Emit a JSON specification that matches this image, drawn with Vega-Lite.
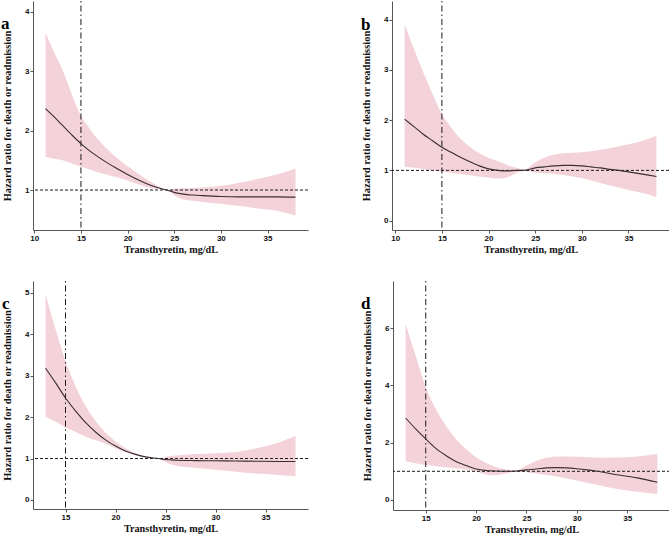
{
  "$schema": "https://vega.github.io/schema/vega-lite/v6.json",
  "padding": {"left": 1, "top": 0, "right": 0, "bottom": 0},
  "background": "white",
  "config": {
    "view": {"stroke": null},
    "axis": {
      "grid": false,
      "domainColor": "#555555",
      "domainWidth": 1,
      "tickColor": "#555555",
      "tickSize": 3,
      "labelFont": "Liberation Sans",
      "labelFontWeight": "bold",
      "labelFontSize": 8,
      "labelColor": "#111111",
      "labelPadding": 1,
      "format": ".0f",
      "titleFont": "Liberation Serif",
      "titleFontWeight": "bold",
      "titleFontSize": 10.5,
      "titleColor": "#111111"
    },
    "axisX": {"titlePadding": 2, "titleFontSize": 10.2},
    "axisY": {"titlePadding": 12},
    "title": {"font": "Liberation Serif", "fontSize": 17, "fontWeight": "bold", "anchor": "start", "orient": "none", "baseline": "alphabetic", "color": "#000000"}
  },
  "datasets": {
    "a": [
      {"x": 11.2, "est": 2.37, "lo": 1.56, "hi": 3.65},
      {"x": 12, "est": 2.25, "lo": 1.53, "hi": 3.36},
      {"x": 13, "est": 2.09, "lo": 1.5, "hi": 3.03},
      {"x": 14, "est": 1.93, "lo": 1.45, "hi": 2.62},
      {"x": 15, "est": 1.78, "lo": 1.39, "hi": 2.25},
      {"x": 16, "est": 1.65, "lo": 1.34, "hi": 2.02},
      {"x": 17, "est": 1.54, "lo": 1.29, "hi": 1.82},
      {"x": 18, "est": 1.44, "lo": 1.25, "hi": 1.66},
      {"x": 19, "est": 1.35, "lo": 1.21, "hi": 1.52},
      {"x": 20, "est": 1.26, "lo": 1.16, "hi": 1.4},
      {"x": 21, "est": 1.18, "lo": 1.1, "hi": 1.29},
      {"x": 22, "est": 1.11, "lo": 1.05, "hi": 1.18},
      {"x": 23, "est": 1.05, "lo": 1.02, "hi": 1.09},
      {"x": 24.2, "est": 1.0, "lo": 1.0, "hi": 1.0},
      {"x": 25, "est": 0.96, "lo": 0.91, "hi": 1.02},
      {"x": 26, "est": 0.93, "lo": 0.84, "hi": 1.03},
      {"x": 27, "est": 0.915, "lo": 0.82, "hi": 1.035},
      {"x": 28, "est": 0.905, "lo": 0.8, "hi": 1.04},
      {"x": 30, "est": 0.89, "lo": 0.77, "hi": 1.07},
      {"x": 32, "est": 0.885, "lo": 0.73, "hi": 1.12},
      {"x": 34, "est": 0.885, "lo": 0.69, "hi": 1.19},
      {"x": 36, "est": 0.885, "lo": 0.65, "hi": 1.26},
      {"x": 38, "est": 0.88, "lo": 0.57, "hi": 1.36}
    ],
    "b": [
      {"x": 11, "est": 2.02, "lo": 1.07, "hi": 3.9},
      {"x": 12, "est": 1.87, "lo": 1.05, "hi": 3.42},
      {"x": 13, "est": 1.72, "lo": 1.03, "hi": 2.95},
      {"x": 14, "est": 1.59, "lo": 1.0, "hi": 2.52},
      {"x": 15, "est": 1.46, "lo": 0.98, "hi": 2.12},
      {"x": 16, "est": 1.36, "lo": 0.955, "hi": 1.85},
      {"x": 17, "est": 1.26, "lo": 0.93, "hi": 1.63},
      {"x": 18, "est": 1.17, "lo": 0.905, "hi": 1.47},
      {"x": 19, "est": 1.09, "lo": 0.88, "hi": 1.34},
      {"x": 20, "est": 1.03, "lo": 0.86, "hi": 1.25},
      {"x": 21, "est": 1.0, "lo": 0.84, "hi": 1.18},
      {"x": 22, "est": 0.99, "lo": 0.86, "hi": 1.11},
      {"x": 23, "est": 1.0, "lo": 0.95, "hi": 1.05},
      {"x": 23.8, "est": 1.0, "lo": 0.99, "hi": 1.01},
      {"x": 25, "est": 1.05, "lo": 0.96, "hi": 1.16},
      {"x": 26, "est": 1.07, "lo": 0.945, "hi": 1.25},
      {"x": 27, "est": 1.09, "lo": 0.93, "hi": 1.31},
      {"x": 28, "est": 1.1, "lo": 0.91, "hi": 1.34},
      {"x": 29, "est": 1.1, "lo": 0.88, "hi": 1.35},
      {"x": 30, "est": 1.09, "lo": 0.85, "hi": 1.36},
      {"x": 31, "est": 1.07, "lo": 0.8, "hi": 1.38},
      {"x": 32, "est": 1.05, "lo": 0.75, "hi": 1.41},
      {"x": 33, "est": 1.02, "lo": 0.7, "hi": 1.44},
      {"x": 34, "est": 1.0, "lo": 0.66, "hi": 1.48},
      {"x": 35, "est": 0.97, "lo": 0.61, "hi": 1.52},
      {"x": 36, "est": 0.94, "lo": 0.57, "hi": 1.56},
      {"x": 37, "est": 0.91, "lo": 0.53, "hi": 1.62},
      {"x": 38, "est": 0.88, "lo": 0.46, "hi": 1.69}
    ],
    "c": [
      {"x": 13, "est": 3.18, "lo": 2.01, "hi": 4.96},
      {"x": 14, "est": 2.83, "lo": 1.89, "hi": 4.12},
      {"x": 15, "est": 2.46, "lo": 1.75, "hi": 3.35},
      {"x": 16, "est": 2.15, "lo": 1.64, "hi": 2.75},
      {"x": 17, "est": 1.87, "lo": 1.53, "hi": 2.27},
      {"x": 18, "est": 1.64, "lo": 1.44, "hi": 1.91},
      {"x": 19, "est": 1.45, "lo": 1.36, "hi": 1.63},
      {"x": 20, "est": 1.3, "lo": 1.25, "hi": 1.41},
      {"x": 21, "est": 1.18, "lo": 1.15, "hi": 1.25},
      {"x": 22, "est": 1.1, "lo": 1.08, "hi": 1.13},
      {"x": 23, "est": 1.04, "lo": 1.03, "hi": 1.05},
      {"x": 24.3, "est": 1.0, "lo": 1.0, "hi": 1.0},
      {"x": 25, "est": 0.975, "lo": 0.91, "hi": 1.04},
      {"x": 26, "est": 0.96, "lo": 0.83, "hi": 1.07},
      {"x": 28, "est": 0.95, "lo": 0.77, "hi": 1.11},
      {"x": 30, "est": 0.945, "lo": 0.73, "hi": 1.13},
      {"x": 32, "est": 0.94, "lo": 0.68, "hi": 1.16},
      {"x": 34, "est": 0.935, "lo": 0.64, "hi": 1.24},
      {"x": 36, "est": 0.93, "lo": 0.61, "hi": 1.36},
      {"x": 38, "est": 0.93, "lo": 0.57, "hi": 1.55}
    ],
    "d": [
      {"x": 13, "est": 2.86, "lo": 1.34, "hi": 6.14},
      {"x": 14, "est": 2.48, "lo": 1.28, "hi": 5.03},
      {"x": 15, "est": 2.13, "lo": 1.22, "hi": 3.93},
      {"x": 16, "est": 1.8, "lo": 1.18, "hi": 3.17},
      {"x": 17, "est": 1.55, "lo": 1.14, "hi": 2.59},
      {"x": 18, "est": 1.34, "lo": 1.1, "hi": 2.13},
      {"x": 19, "est": 1.2, "lo": 1.06, "hi": 1.78},
      {"x": 20, "est": 1.08, "lo": 0.99, "hi": 1.49},
      {"x": 21, "est": 1.03, "lo": 0.89, "hi": 1.29},
      {"x": 22, "est": 1.01, "lo": 0.86, "hi": 1.14},
      {"x": 23, "est": 1.0, "lo": 0.92, "hi": 1.06},
      {"x": 24, "est": 1.01, "lo": 0.99, "hi": 1.03},
      {"x": 25, "est": 1.05, "lo": 0.97, "hi": 1.2},
      {"x": 26, "est": 1.08, "lo": 0.92, "hi": 1.37},
      {"x": 27, "est": 1.12, "lo": 0.87, "hi": 1.47},
      {"x": 28, "est": 1.13, "lo": 0.82, "hi": 1.52},
      {"x": 29, "est": 1.12, "lo": 0.75, "hi": 1.52},
      {"x": 30, "est": 1.09, "lo": 0.68, "hi": 1.51},
      {"x": 31, "est": 1.05, "lo": 0.6, "hi": 1.49},
      {"x": 32, "est": 1.0, "lo": 0.53, "hi": 1.47},
      {"x": 34, "est": 0.88, "lo": 0.38, "hi": 1.48},
      {"x": 36, "est": 0.77, "lo": 0.29, "hi": 1.52},
      {"x": 38, "est": 0.62, "lo": 0.21, "hi": 1.6}
    ]
  },
  "spacing": 25,
  "vconcat": [
    {
      "spacing": 52,
      "hconcat": [
        {
          "width": 275, "height": 229,
          "title": {"text": "a", "dx": -32, "dy": 15},
          "layer": [
            {
              "data": {"name": "a"},
              "mark": {"type": "area", "color": "#f3d3d9", "opacity": 1, "interpolate": "monotone"},
              "encoding": {
                "x": {"field": "x", "type": "quantitative", "scale": {"domain": [9.86, 39.34], "nice": false, "zero": false}, "axis": {"values": [10, 15, 20, 25, 30, 35], "title": "Transthyretin, mg/dL"}},
                "y": {"field": "lo", "type": "quantitative", "scale": {"domain": [0.327, 4.18], "nice": false, "zero": false}, "axis": {"values": [1, 2, 3, 4], "title": "Hazard ratio for death or readmission"}},
                "y2": {"field": "hi"}
              }
            },
            {
              "data": {"values": [{}]},
              "mark": {"type": "rule", "color": "#1a1a1a", "strokeWidth": 1, "strokeDash": [3, 2]},
              "encoding": {"y": {"datum": 1}}
            },
            {
              "data": {"values": [{}]},
              "mark": {"type": "rule", "color": "#1a1a1a", "strokeWidth": 1, "strokeDash": [1.5, 3, 6, 3]},
              "encoding": {"x": {"datum": 15}}
            },
            {
              "data": {"name": "a"},
              "mark": {"type": "line", "color": "#3a2e30", "strokeWidth": 1.1, "interpolate": "monotone"},
              "encoding": {"x": {"field": "x", "type": "quantitative"}, "y": {"field": "est", "type": "quantitative"}}
            }
          ]
        },
        {
          "width": 277, "height": 229,
          "title": {"text": "b", "dx": -31, "dy": 16},
          "layer": [
            {
              "data": {"name": "b"},
              "mark": {"type": "area", "color": "#f3d3d9", "opacity": 1, "interpolate": "monotone"},
              "encoding": {
                "x": {"field": "x", "type": "quantitative", "scale": {"domain": [9.65, 39.35], "nice": false, "zero": false}, "axis": {"values": [10, 15, 20, 25, 30, 35], "title": "Transthyretin, mg/dL"}},
                "y": {"field": "lo", "type": "quantitative", "scale": {"domain": [-0.186, 4.37], "nice": false, "zero": false}, "axis": {"values": [0, 1, 2, 3, 4], "title": "Hazard ratio for death or readmission"}},
                "y2": {"field": "hi"}
              }
            },
            {
              "data": {"values": [{}]},
              "mark": {"type": "rule", "color": "#1a1a1a", "strokeWidth": 1, "strokeDash": [3, 2]},
              "encoding": {"y": {"datum": 1}}
            },
            {
              "data": {"values": [{}]},
              "mark": {"type": "rule", "color": "#1a1a1a", "strokeWidth": 1, "strokeDash": [1.5, 3, 6, 3]},
              "encoding": {"x": {"datum": 15}}
            },
            {
              "data": {"name": "b"},
              "mark": {"type": "line", "color": "#3a2e30", "strokeWidth": 1.1, "interpolate": "monotone"},
              "encoding": {"x": {"field": "x", "type": "quantitative"}, "y": {"field": "est", "type": "quantitative"}}
            }
          ]
        }
      ]
    },
    {
      "spacing": 52,
      "hconcat": [
        {
          "width": 275, "height": 228,
          "title": {"text": "c", "dx": -31, "dy": 15},
          "layer": [
            {
              "data": {"name": "c"},
              "mark": {"type": "area", "color": "#f3d3d9", "opacity": 1, "interpolate": "monotone"},
              "encoding": {
                "x": {"field": "x", "type": "quantitative", "scale": {"domain": [11.75, 39.25], "nice": false, "zero": false}, "axis": {"values": [15, 20, 25, 30, 35], "title": "Transthyretin, mg/dL"}},
                "y": {"field": "lo", "type": "quantitative", "scale": {"domain": [-0.217, 5.28], "nice": false, "zero": false}, "axis": {"values": [0, 1, 2, 3, 4, 5], "title": "Hazard ratio for death or readmission"}},
                "y2": {"field": "hi"}
              }
            },
            {
              "data": {"values": [{}]},
              "mark": {"type": "rule", "color": "#1a1a1a", "strokeWidth": 1, "strokeDash": [3, 2]},
              "encoding": {"y": {"datum": 1}}
            },
            {
              "data": {"values": [{}]},
              "mark": {"type": "rule", "color": "#1a1a1a", "strokeWidth": 1, "strokeDash": [1.5, 3, 6, 3]},
              "encoding": {"x": {"datum": 15}}
            },
            {
              "data": {"name": "c"},
              "mark": {"type": "line", "color": "#3a2e30", "strokeWidth": 1.1, "interpolate": "monotone"},
              "encoding": {"x": {"field": "x", "type": "quantitative"}, "y": {"field": "est", "type": "quantitative"}}
            }
          ]
        },
        {
          "width": 277, "height": 229,
          "title": {"text": "d", "dx": -32, "dy": 15},
          "layer": [
            {
              "data": {"name": "d"},
              "mark": {"type": "area", "color": "#f3d3d9", "opacity": 1, "interpolate": "monotone"},
              "encoding": {
                "x": {"field": "x", "type": "quantitative", "scale": {"domain": [11.75, 39.25], "nice": false, "zero": false}, "axis": {"values": [15, 20, 25, 30, 35], "title": "Transthyretin, mg/dL"}},
                "y": {"field": "lo", "type": "quantitative", "scale": {"domain": [-0.35, 7.64], "nice": false, "zero": false}, "axis": {"values": [0, 2, 4, 6], "title": "Hazard ratio for death or readmission"}},
                "y2": {"field": "hi"}
              }
            },
            {
              "data": {"values": [{}]},
              "mark": {"type": "rule", "color": "#1a1a1a", "strokeWidth": 1, "strokeDash": [3, 2]},
              "encoding": {"y": {"datum": 1}}
            },
            {
              "data": {"values": [{}]},
              "mark": {"type": "rule", "color": "#1a1a1a", "strokeWidth": 1, "strokeDash": [1.5, 3, 6, 3]},
              "encoding": {"x": {"datum": 15}}
            },
            {
              "data": {"name": "d"},
              "mark": {"type": "line", "color": "#3a2e30", "strokeWidth": 1.1, "interpolate": "monotone"},
              "encoding": {"x": {"field": "x", "type": "quantitative"}, "y": {"field": "est", "type": "quantitative"}}
            }
          ]
        }
      ]
    }
  ]
}
